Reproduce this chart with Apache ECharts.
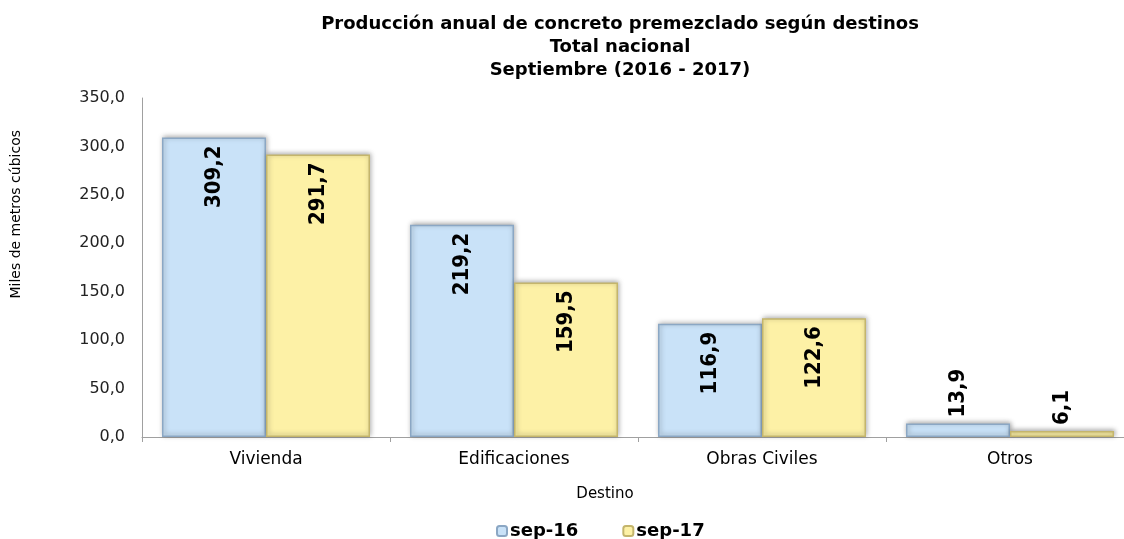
<!DOCTYPE html>
<html>
<head>
<meta charset="utf-8">
<script src="https://cdn.jsdelivr.net/npm/echarts@6/dist/echarts.min.js"></script>
<style>
  html, body { margin: 0; padding: 0; background: #fff; overflow: hidden; }
  #main { width: 1140px; height: 539px; }
</style>
</head>
<body>
<div id="main"></div>
<script>
// datos del grafico
var categorias = ['Vivienda', 'Edificaciones', 'Obras Civiles', 'Otros'];
var sep16 = [309.2, 219.2, 116.9, 13.9];
var sep17 = [291.7, 159.5, 122.6, 6.1];
var series_nombres = ['sep-16', 'sep-17'];

function coma(v) {
	return v.toFixed(1).replace('.', ',');
}

// barras chicas llevan la etiqueta afuera
function armarDatos(valores) {
	var out = [];
	for (var i = 0; i < valores.length; i++) {
		var item = { value: valores[i] };
		if (valores[i] < 50) {
			item.label = { position: 'top', align: 'left', verticalAlign: 'middle', distance: 6 };
		}
		out.push(item);
	}
	return out;
}

var etiqueta = {
	show: true,
	position: 'insideTop',
	rotate: 90,
	align: 'right',
	verticalAlign: 'middle',
	distance: 8,
	color: '#000',
	fontFamily: 'DejaVu Sans Condensed',
	fontWeight: 'bold',
	fontSize: 22,
	formatter: function (p) { return coma(p.value); }
};

var myChart = echarts.init(document.getElementById('main'));
var option = {
	backgroundColor: '#fff',
	title: {
		text: 'Producción anual de concreto premezclado según destinos\nTotal nacional\nSeptiembre (2016 - 2017)',
		left: 615,
		top: 8,
		textAlign: 'center',
		textStyle: {
			fontFamily: 'DejaVu Sans',
			fontWeight: 'bold',
			fontSize: 18,
			lineHeight: 23,
			color: '#000'
		}
	},
	legend: {
		data: series_nombres,
		bottom: -6,
		left: 491,
		itemWidth: 10,
		itemHeight: 10,
		itemGap: 44,
		textStyle: {
			fontFamily: 'DejaVu Sans',
			fontWeight: 'bold',
			fontSize: 18,
			color: '#000',
			padding: [0, 0, 0, -2]
		}
	},
	graphic: [{
		type: 'text',
		left: 9,
		top: 130,
		rotation: Math.PI / 2,
		style: {
			text: 'Miles de metros cúbicos',
			fontFamily: 'DejaVu Sans',
			fontSize: 14,
			fill: '#000'
		}
	}],
	grid: {
		left: 142,
		right: 6,
		top: 98,
		bottom: 102,
		containLabel: false
	},
	xAxis: {
		type: 'category',
		data: categorias,
		name: 'Destino',
		nameLocation: 'middle',
		nameGap: 50,
		nameTextStyle: { fontFamily: 'DejaVu Sans', fontSize: 15, color: '#000', padding: [0, 66, 0, 0] },
		axisLine: { lineStyle: { color: '#a0a0a0' } },
		axisTick: { show: true, length: 5, lineStyle: { color: '#a0a0a0' } },
		axisLabel: { fontFamily: 'DejaVu Sans', fontSize: 17, color: '#000', margin: 14 }
	},
	yAxis: {
		type: 'value',
		min: 0,
		max: 350,
		interval: 50,
		splitLine: { show: false },
		axisLine: { show: true, lineStyle: { color: '#a0a0a0' } },
		axisTick: { show: false },
		axisLabel: {
			fontFamily: 'DejaVu Sans',
			fontSize: 16,
			color: '#222',
			margin: 17,
			formatter: function (v) { return coma(v); }
		}
	},
	series: [{
		name: series_nombres[0],
		type: 'bar',
		data: armarDatos(sep16),
		barWidth: 104,
		barGap: '0%',
		itemStyle: {
			color: '#c9e2f8',
			borderColor: '#8ba7c4',
			borderWidth: 1.5,
			shadowColor: 'rgba(0,0,0,0.35)',
			shadowBlur: 5,
			shadowOffsetX: 1,
			shadowOffsetY: -1
		},
		label: etiqueta
	}, {
		name: series_nombres[1],
		type: 'bar',
		data: armarDatos(sep17),
		barWidth: 104,
		barGap: '0%',
		itemStyle: {
			color: '#fdf1a6',
			borderColor: '#c4b56c',
			borderWidth: 1.5,
			shadowColor: 'rgba(0,0,0,0.35)',
			shadowBlur: 5,
			shadowOffsetX: 1,
			shadowOffsetY: -1
		},
		label: etiqueta
	}]
};
myChart.setOption(option);
</script>
</body>
</html>
